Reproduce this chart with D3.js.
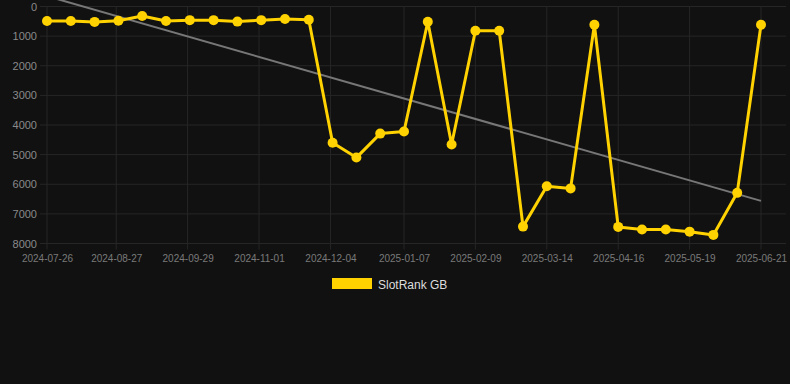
<!DOCTYPE html>
<html><head><meta charset="utf-8">
<script src="https://cdn.jsdelivr.net/npm/d3@7/dist/d3.min.js"></script>
<style>
html,body{margin:0;padding:0;background:#111111;}
svg{display:block;}
</style></head>
<body>
<svg id="chart" width="790" height="384"></svg>
<script>
const startDate = "2024-07-26";
const stepDays = 11;
const rankValues = [490, 490, 520, 480, 320, 490, 460, 460, 510, 460, 420, 450,
  4600, 5100, 4290, 4220, 515, 4660, 820, 820, 7430, 6070, 6140, 615,
  7440, 7530, 7530, 7600, 7710, 6290, 615];
const trendValues = [-350, 6560];
const xTickLabels = ["2024-07-26","2024-08-27","2024-09-29","2024-11-01","2024-12-04",
  "2025-01-07","2025-02-09","2025-03-14","2025-04-16","2025-05-19","2025-06-21"];
const yTicks = [0,1000,2000,3000,4000,5000,6000,7000,8000];
const seriesName = "SlotRank GB";

const parse = d3.utcParse("%Y-%m-%d");
const t0 = parse(startDate);
const data = rankValues.map((v,i)=>({date: d3.utcDay.offset(t0, i*stepDays), value: v}));
const tEnd = data[data.length-1].date;

const svg = d3.select("#chart");
const plotLeft = 40, plotRight = 786;
const x = d3.scaleUtc().domain([t0, tEnd]).range([47, 761]);
const y = d3.scaleLinear().domain([0, 8000]).range([6.5, 243.5]);

const gridColor = "#262626";
// horizontal grid
svg.append("g").selectAll("line").data(yTicks).join("line")
  .attr("x1", plotLeft).attr("x2", plotRight)
  .attr("y1", d=>y(d)).attr("y2", d=>y(d))
  .attr("stroke", gridColor).attr("stroke-width", 1);
// vertical grid
const xTickDates = xTickLabels.map(parse);
svg.append("g").selectAll("line").data(xTickDates).join("line")
  .attr("x1", d=>x(d)).attr("x2", d=>x(d))
  .attr("y1", y(0)).attr("y2", y(8000)+6)
  .attr("stroke", gridColor).attr("stroke-width", 1);

// y axis labels
const yAxis = d3.axisLeft(y).tickValues(yTicks).tickSize(0).tickPadding(0).tickFormat(d3.format("d"));
const gy = svg.append("g").attr("transform", "translate(37,0)").call(yAxis);
gy.select(".domain").remove();
gy.selectAll("text").attr("fill", "#8a8a8a").attr("font-family", "Liberation Sans, Arial, sans-serif").attr("font-size", 11);

// x axis labels
const xAxis = d3.axisBottom(x).tickValues(xTickDates).tickSize(0).tickPadding(0).tickFormat(d3.utcFormat("%Y-%m-%d"));
const gx = svg.append("g").attr("transform", "translate(0,255)").call(xAxis);
gx.select(".domain").remove();
gx.selectAll("text").attr("fill", "#7a7a7a").attr("font-family", "Liberation Sans, Arial, sans-serif").attr("font-size", 10);

// trend line
svg.append("line")
  .attr("x1", x(t0)).attr("y1", y(trendValues[0]))
  .attr("x2", x(tEnd)).attr("y2", y(trendValues[1]))
  .attr("stroke", "#777777").attr("stroke-width", 2);

const gold = "#FFD200";
const line = d3.line().x(d=>x(d.date)).y(d=>y(d.value));
svg.append("path").datum(data).attr("d", line)
  .attr("fill", "none").attr("stroke", gold).attr("stroke-width", 3).attr("stroke-linejoin", "round");
svg.append("g").selectAll("circle").data(data).join("circle")
  .attr("cx", d=>x(d.date)).attr("cy", d=>y(d.value)).attr("r", 5)
  .attr("fill", gold);

// legend
svg.append("rect").attr("x", 332).attr("y", 278).attr("width", 40).attr("height", 11).attr("fill", gold);
svg.append("text").attr("x", 378).attr("y", 288.5).text(seriesName)
  .attr("fill", "#dddddd").attr("font-family", "Liberation Sans, Arial, sans-serif").attr("font-size", 12);
</script>
</body></html>
